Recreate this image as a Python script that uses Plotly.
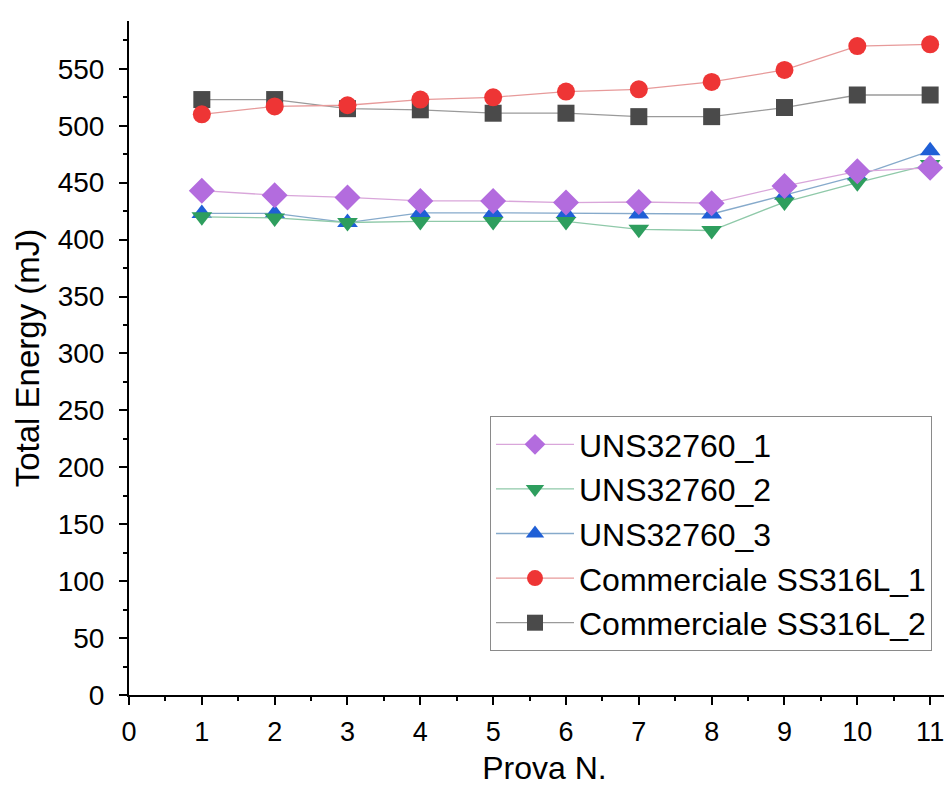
import plotly.graph_objects as go

prova = [1, 2, 3, 4, 5, 6, 7, 8, 9, 10, 11]

uns_1 = [443, 439, 437, 434, 434, 432.5, 433, 432, 447, 460, 463]
uns_2 = [420, 419, 415, 416, 416, 416, 409, 408, 433, 450, 466]
uns_3 = [423, 423, 415, 423.5, 423.5, 423, 422.5, 422.5, 439, 456, 478]
ss_1 = [510, 517, 518, 523, 525, 530, 532, 538.5, 549, 570, 571.5]
ss_2 = [523, 523, 515, 514, 511, 511, 508, 508, 516, 527, 527]

series = [
    ("UNS32760_1", uns_1, "diamond", 20, "#B36CDE", "#D9A6DA"),
    ("UNS32760_2", uns_2, "triangle-down", 18, "#2E9E5E", "#8FC9A9"),
    ("UNS32760_3", uns_3, "triangle-up", 18, "#1F5FD6", "#86AACB"),
    ("Commerciale SS316L_1", ss_1, "circle", 18, "#EE3535", "#E79A9A"),
    ("Commerciale SS316L_2", ss_2, "square", 17, "#4A4A4A", "#9A9A9A"),
]

fig = go.Figure()
for name, vals, sym, size, mcol, lcol in reversed(series):
    fig.add_trace(go.Scatter(
        x=prova, y=vals, name=name, mode="lines+markers",
        line=dict(color=lcol, width=1.3),
        marker=dict(symbol=sym, size=size, color=mcol, line=dict(width=0)),
        legendgroup=name,
    ))

W, H = 952, 789
L, R, T, B = 121, 0, 13, 102

fig.update_layout(
    width=W, height=H,
    margin=dict(l=L, r=R, t=T, b=B, autoexpand=False),
    paper_bgcolor="white", plot_bgcolor="white",
    font=dict(family="Liberation Sans, Arial", color="black"),
    showlegend=True,
    legend=dict(
        x=(482 - L) / (W - L), y=(687 - 408) / (687 - T),
        xanchor="left", yanchor="top",
        traceorder="reversed",
        bgcolor="white", bordercolor="#8A8A8A", borderwidth=1,
        font=dict(family="Liberation Sans, Arial", size=32, color="black"),
        itemwidth=78, tracegroupgap=3,
    ),
    xaxis=dict(
        range=[0, 11.41], showgrid=False, zeroline=False,
        showline=True, linecolor="black", linewidth=2,
        ticks="outside", tickwidth=2, ticklen=8, tickcolor="black",
        tick0=0, dtick=1, ticklabelstandoff=4,
        minor=dict(ticks="outside", ticklen=4, tickwidth=2, tickcolor="black", dtick=0.5),
        tickfont=dict(family="Liberation Sans, Arial", size=27, color="black"),
        title=dict(text="Prova N.", font=dict(family="Liberation Sans, Arial", size=32, color="black"), standoff=10),
    ),
    yaxis=dict(
        range=[0, 592], showgrid=False, zeroline=False,
        showline=True, linecolor="black", linewidth=2,
        ticks="outside", tickwidth=2, ticklen=8, tickcolor="black",
        tick0=0, dtick=50, ticklabelstandoff=9,
        minor=dict(ticks="outside", ticklen=4, tickwidth=2, tickcolor="black", dtick=25),
        tickfont=dict(family="Liberation Sans, Arial", size=28, color="black"),
        title=dict(text="Total Energy (mJ)", font=dict(family="Liberation Sans, Arial", size=33, color="black"), standoff=8),
    ),
)

fig.write_html("out.html")
